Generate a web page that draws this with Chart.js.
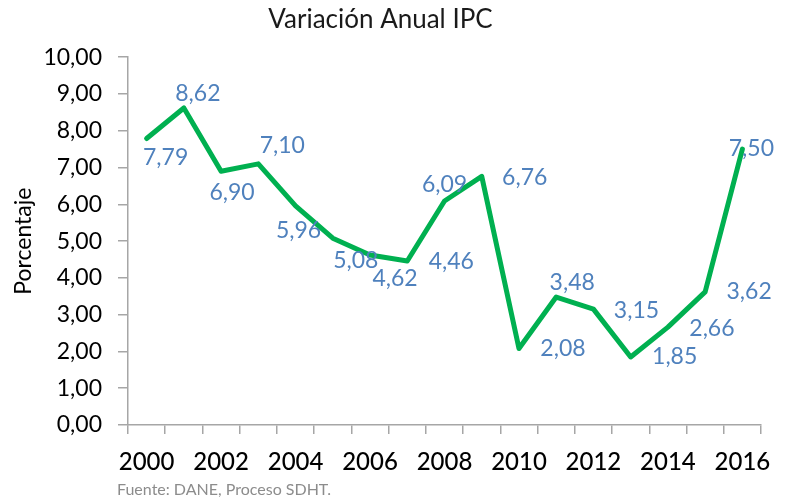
<!DOCTYPE html>
<html>
<head>
<meta charset="utf-8">
<script src="https://cdn.jsdelivr.net/npm/chart.js@4.4.1/dist/chart.umd.min.js"></script>
<style>
  html, body { margin: 0; padding: 0; background: #fff; }
  #wrap { width: 791px; height: 499px; position: relative; }
</style>
</head>
<body>
<div id="wrap"><canvas id="ipc-chart"></canvas></div>
<script>
// values
const years = ["2000", "2001", "2002", "2003", "2004", "2005", "2006", "2007", "2008",
  "2009", "2010", "2011", "2012", "2013", "2014", "2015", "2016"];
const ipc = [7.79, 8.62, 6.90, 7.10, 5.96, 5.08, 4.62, 4.46, 6.09,
  6.76, 2.08, 3.48, 3.15, 1.85, 2.66, 3.62, 7.50];
const chartTitle = "Variación Anual IPC";
const yTitle = "Porcentaje";
const source = "Fuente: DANE, Proceso SDHT.";

// where each value label sits relative to its point (like the Excel original)
const labelOffsets = [
  [19, 19], [14, -14], [11, 21], [24, -18], [3, 25], [23, 22], [25, 24], [44, 1], [0, -16],
  [43, 1], [44, 0], [16, -14], [43, 1], [44, 0], [44, 1], [44, 0], [9, -1]
];

const FONT = "Lato, 'Open Sans', sans-serif";
const comma = v => Number(v).toFixed(2).replace(".", ",");

const valueLabels = {
  id: "valueLabels",
  afterDatasetsDraw(chart) {
    const ctx = chart.ctx;
    const meta = chart.getDatasetMeta(0);
    ctx.save();
    ctx.font = "23px " + FONT;
    ctx.fillStyle = "#4F81BD";
    ctx.textAlign = "center";
    ctx.textBaseline = "middle";
    meta.data.forEach((pt, i) => {
      const off = labelOffsets[i] || [0, -16];
      ctx.fillText(comma(ipc[i]), pt.x + off[0], pt.y + off[1]);
    });
    ctx.restore();
  }
};

const footer = {
  id: "footer",
  afterDraw(chart) {
    const ctx = chart.ctx;
    ctx.save();
    ctx.font = "16px " + FONT;
    ctx.fillStyle = "#8C8C8C";
    ctx.textAlign = "left";
    ctx.textBaseline = "alphabetic";
    ctx.fillText(source, 117, 495);
    ctx.restore();
  }
};

new Chart(document.getElementById("ipc-chart"), {
  type: "line",
  data: {
    labels: years,
    datasets: [{
      label: chartTitle,
      data: ipc,
      borderColor: "#00B050",
      borderWidth: 5,
      borderJoinStyle: "round",
      borderCapStyle: "round",
      tension: 0,
      pointRadius: 0,
      fill: false
    }]
  },
  options: {
    responsive: true,
    maintainAspectRatio: false,
    animation: false,
    layout: { padding: { left: 0, right: 30, top: 0, bottom: 0 } },
    plugins: {
      legend: { display: false },
      tooltip: { enabled: false },
      title: {
        display: true,
        text: chartTitle,
        color: "#1a1a1a",
        font: { family: FONT, size: 26, weight: "normal" },
        padding: { top: 4, bottom: 22 }
      }
    },
    scales: {
      x: {
        type: "category",
        offset: true,
        grid: { offset: true, drawOnChartArea: false, drawTicks: true, tickLength: 9, color: "#A6A6A6", lineWidth: 1.5 },
        border: { color: "#A6A6A6", width: 1.5 },
        ticks: {
          autoSkip: false,
          maxRotation: 0,
          padding: 14,
          color: "#000",
          font: { family: FONT, size: 24, weight: "500" },
          callback: (v, i) => (i % 2 === 0 ? years[i] : "")
        },
        afterFit: s => { s.height = 74; }
      },
      y: {
        min: 0,
        max: 10,
        grid: { drawOnChartArea: false, drawTicks: true, tickLength: 10, color: "#A6A6A6", lineWidth: 1.5 },
        border: { color: "#A6A6A6", width: 1.5 },
        ticks: {
          stepSize: 1,
          padding: 16,
          color: "#000",
          font: { family: FONT, size: 23 },
          callback: v => comma(v)
        },
        title: {
          display: true,
          text: yTitle,
          color: "#000",
          font: { family: FONT, size: 23 },
          padding: { top: 10, bottom: 0 }
        },
        afterFit: s => { s.width = 128; }
      }
    }
  },
  plugins: [valueLabels, footer]
});
</script>
</body>
</html>
